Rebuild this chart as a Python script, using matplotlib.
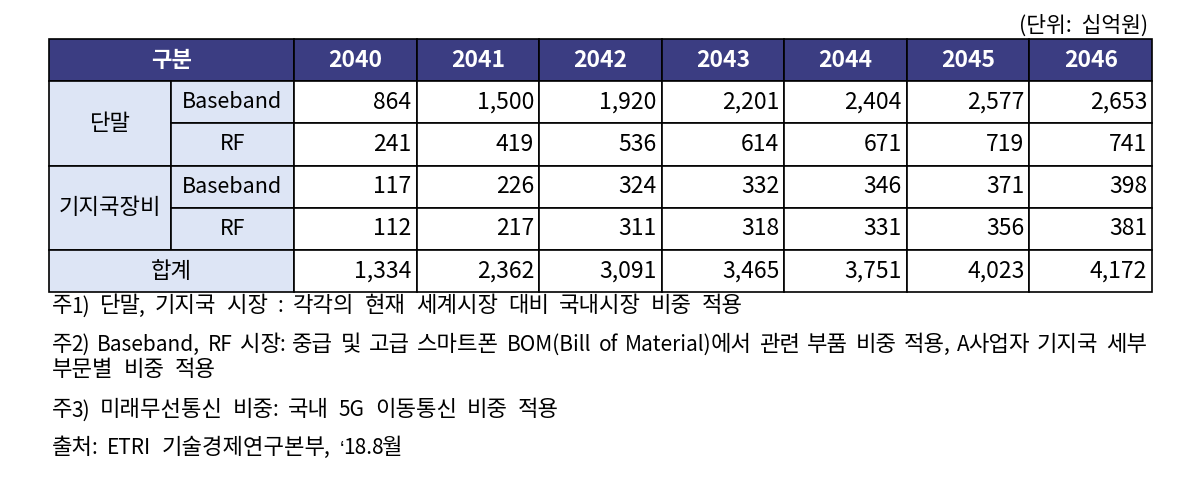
import matplotlib.pyplot as plt
from matplotlib.patches import Rectangle

plt.rcParams['font.family'] = ['Noto Sans CJK KR', 'DejaVu Sans']

years = ['2040', '2041', '2042', '2043', '2044', '2045', '2046']
groups = ['단말', '기지국장비']
items = ['Baseband', 'RF']
term_bb = [864, 1500, 1920, 2201, 2404, 2577, 2653]
term_rf = [241, 419, 536, 614, 671, 719, 741]
base_bb = [117, 226, 324, 332, 346, 371, 398]
base_rf = [112, 217, 311, 318, 331, 356, 381]
total = [1334, 2362, 3091, 3465, 3751, 4023, 4172]
notes = [
    '주1) 단말, 기지국 시장 : 각각의 현재 세계시장 대비 국내시장 비중 적용',
    '주2) Baseband, RF 시장: 중급 및 고급 스마트폰 BOM(Bill of Material)에서 관련 부품 비중 적용, A사업자 기지국 세부',
    '부문별 비중 적용',
    '주3) 미래무선통신 비중: 국내 5G 이동통신 비중 적용',
    '출처: ETRI 기술경제연구본부, ‘18.8월',
]
note_base = [312.5, 351, 376.5, 416.5, 454]
note_justify = [False, True, False, False, False]

W, H = 1182, 479
fig = plt.figure(figsize=(W / 100, H / 100), dpi=100)
ax = fig.add_axes([0, 0, 1, 1])
ax.set_xlim(0, W)
ax.set_ylim(H, 0)
ax.axis('off')

navy = '#3b3d82'
light = '#dde5f5'
fs_num = 16.5
fs_lat = 15.5
fs_kor = 16

# column edges
x0, x1, x2, xr = 49, 171, 294, 1152
cw = (xr - x2) / len(years)
xs = [x2 + i * cw for i in range(len(years) + 1)]
top, rh = 39, 42.2
ys = [top + i * rh for i in range(6)]


def box(x, y, w, h, fc):
    ax.add_patch(Rectangle((x, y), w, h, facecolor=fc, edgecolor='black', lw=1.2))


# header
box(x0, ys[0], x2 - x0, rh, navy)
ax.text((x0 + x2) / 2, ys[0] + rh / 2, '구분', color='white', fontsize=fs_kor,
        fontweight='bold', ha='center', va='center')
for i, yr in enumerate(years):
    box(xs[i], ys[0], cw, rh, navy)
    ax.text(xs[i] + cw / 2, ys[0] + rh / 2, yr, color='white', fontsize=fs_num,
            fontweight='bold', ha='center', va='center')

rows = [term_bb, term_rf, base_bb, base_rf]
for g, name in enumerate(groups):
    ya = ys[1 + 2 * g]
    box(x0, ya, x1 - x0, 2 * rh, light)
    ax.text((x0 + x1) / 2, ya + rh, name, fontsize=fs_kor, ha='center', va='center')
    for k, it in enumerate(items):
        y = ya + k * rh
        box(x1, y, x2 - x1, rh, light)
        ax.text((x1 + x2) / 2, y + rh / 2, it, fontsize=fs_lat, ha='center', va='center')
        vals = rows[2 * g + k]
        for i, v in enumerate(vals):
            box(xs[i], y, cw, rh, 'white')
            ax.text(xs[i + 1] - 5, y + rh / 2, f'{v:,}', fontsize=fs_num,
                    ha='right', va='center')

y = ys[5]
box(x0, y, x2 - x0, rh, light)
ax.text((x0 + x2) / 2, y + rh / 2, '합계', fontsize=fs_kor, ha='center', va='center')
for i, v in enumerate(total):
    box(xs[i], y, cw, rh, 'white')
    ax.text(xs[i + 1] - 5, y + rh / 2, f'{v:,}', fontsize=fs_num, ha='right', va='center')

ax.text(xr - 4, 26, '(단위:  십억원)', fontsize=15.5, ha='right', va='center')

# notes: hangul and latin runs get their own size (the source font mixes them
# that way), words are laid out one by one with a wide gap
fig.canvas.draw()
renderer = fig.canvas.get_renderer()
inv = ax.transData.inverted()
fs_hn, fs_ln = 16, 15
gap = 10
join = -1.5
quote_fam = ['Liberation Sans', 'DejaVu Sans']


def kind(ch):
    if '\uac00' <= ch <= '\ud7a3':
        return 'h'
    if ch in '‘’':
        return 'q'
    return 'l'


def runs(word):
    out = []
    for ch in word:
        k = kind(ch)
        if out and out[-1][1] == k:
            out[-1][0] += ch
        else:
            out.append([ch, k])
    return out


def style(k):
    if k == 'h':
        return dict(fontsize=fs_hn)
    if k == 'q':
        return dict(fontsize=fs_ln, family=quote_fam)
    return dict(fontsize=fs_ln)


def width(s, k):
    t = ax.text(0, 0, s, **style(k))
    bb = t.get_window_extent(renderer)
    t.remove()
    (xa, _), (xb, _) = inv.transform([(bb.x0, bb.y0), (bb.x1, bb.y0)])
    return xb - xa


for t, yb, just in zip(notes, note_base, note_justify):
    words = t.split(' ')
    parts = [runs(w) for w in words]
    wws = [sum(width(s, k) for s, k in p) + (len(p) - 1) * join for p in parts]
    g = gap
    if just:
        g = (xr - 5 - 52 - sum(wws)) / (len(words) - 1)
    x = 52
    for p, ww in zip(parts, wws):
        xx = x
        for s, k in p:
            ax.text(xx, yb, s, ha='left', va='baseline', **style(k))
            xx += width(s, k) + join
        x += ww + g

fig.savefig('out.png', dpi=100)
